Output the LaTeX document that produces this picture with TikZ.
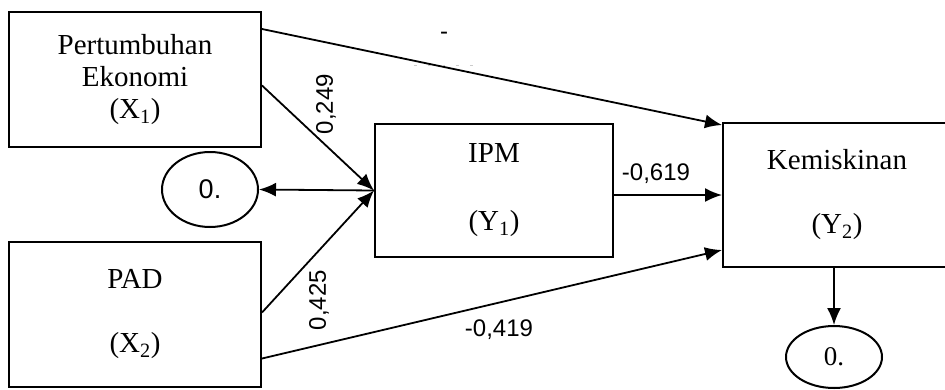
\documentclass[tikz,border=0pt]{standalone}
\usepackage{fontspec}
\setmainfont{Liberation Serif}
\newfontfamily\labelfont{Liberation Sans}
\usetikzlibrary{arrows.meta,positioning,shapes.geometric}

\begin{document}
\begin{tikzpicture}[
    x=1pt, y=-1pt,
    var/.style={draw, line width=2pt, align=center, inner sep=0pt,
                font=\fontsize{29}{32}\selectfont},
    err/.style={draw, ellipse, line width=2pt, inner sep=0pt},
    coef/.style={font=\labelfont\fontsize{24}{28}\selectfont, inner sep=0pt},
    arr/.style={-{Latex[length=17pt,width=14pt]}, line width=1.8pt}
  ]
    \useasboundingbox (0,0) rectangle (945,389);
    \node[var, minimum width=252pt, minimum height=135pt] (pe) at (135,79.5)
      {Pertumbuhan\\Ekonomi\\(X\textsubscript{1})};
    \node[var, minimum width=252pt, minimum height=145pt] (pad) at (135,314.5)
      {PAD\\[32pt](X\textsubscript{2})};
    \node[var, minimum width=238pt, minimum height=133pt] (ipm) at (494,190.5)
      {IPM\\[36pt](Y\textsubscript{1})};
    \node[var, minimum width=228pt, minimum height=144pt] (kem) at (837,195)
      {Kemiskinan\\[32pt](Y\textsubscript{2})};
    \node[err, minimum width=96pt, minimum height=75pt,
          font=\labelfont\fontsize{27}{30}\selectfont] (e1) at (210,189.5) {0.};
    \node[err, minimum width=96pt, minimum height=62pt,
          font=\fontsize{27}{30}\selectfont] (e2) at (834,357) {0.};

    \draw[arr] ([yshift=-18pt]pe.north east) -- ([yshift=-3pt]kem.north west);
    \draw[arr] ([yshift=-6pt]pe.east) -- (ipm.west);
    \draw[arr] ([yshift=2pt]pad.east) -- (ipm.west);
    \draw[arr] ([yshift=-44pt]pad.east) -- ([yshift=-55pt]kem.west);
    \draw[arr] (ipm.east |- kem.west) -- (kem.west);
    \draw[arr, {Latex[length=17pt,width=14pt]}-] (e1.east) -- (ipm.west);
    \draw[arr] (e2.north |- kem.south) -- (e2.north);

    % koefisien jalur
    \node[coef, rotate=90] (c249) at (326,104) {0,249};
    \node[coef, rotate=90] (c425) at (319,300) {0,425};
    \node[coef] (c619) at (656,174) {-0,619};
    \node[coef] (c419) at (499,330) {-0,419};
    \node[coef] (cdash) at (444,36) {-};
    \draw[gray!40, line width=0.6pt, dash pattern=on 3pt off 11pt]
      (cdash.south west) ++(-26,25) -- ++(70,0);
\end{tikzpicture}
\end{document}
